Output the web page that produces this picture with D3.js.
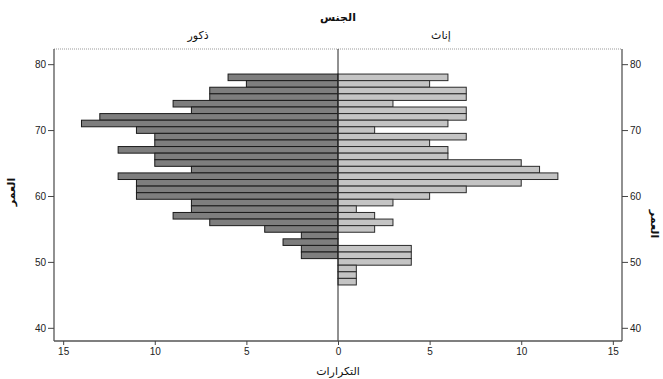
<!DOCTYPE html>
<html>
<head>
<meta charset="utf-8">
<script src="https://cdn.jsdelivr.net/npm/d3@7"></script>
<style>
  body { margin: 0; background: #fff; }
  svg { display: block; }
  .tick text { font-family: "Liberation Sans", Arial, sans-serif; font-size: 10px; fill: #222; }
  .ar { font-family: "DejaVu Sans", sans-serif; fill: #111; }
</style>
</head>
<body>
<svg id="chart"></svg>
<script>
// ages, top bar first
const maleAges = d3.range(78, 50, -1);
const maleCounts = [6, 5, 7, 7, 9, 8, 13, 14, 11, 10, 10, 12, 10, 10, 8, 12, 11, 11, 11, 8, 8, 9, 7, 4, 2, 3, 2, 2];
const femaleAges = d3.range(78, 46, -1);
const femaleCounts = [6, 5, 7, 7, 3, 7, 7, 6, 2, 7, 5, 6, 6, 10, 11, 12, 10, 7, 5, 3, 1, 2, 3, 2, 0, 0, 4, 4, 4, 1, 1, 1];
const ageTicks = [40, 50, 60, 70, 80];
const countTicks = [-15, -10, -5, 0, 5, 10, 15];

const width = 663, height = 379;
const plotLeft = 54, plotRight = 622, plotTop = 49, plotBottom = 341;

const svg = d3.select("#chart").attr("width", width).attr("height", height);

const x = d3.scaleLinear().domain([-15.5, 15.5]).range([plotLeft, plotRight]);
const y = d3.scaleLinear().domain([38, 82.3]).range([plotBottom, plotTop]);

const males = maleAges.map((a, i) => ({ age: a, n: maleCounts[i] }));
const females = femaleAges.map((a, i) => ({ age: a, n: femaleCounts[i] })).filter(d => d.n > 0);

// frame top
svg.append("line").attr("x1", plotLeft).attr("x2", plotRight).attr("y1", plotTop).attr("y2", plotTop)
  .style("stroke", "#999").style("stroke-dasharray", "1,1");

// bars
svg.append("g").selectAll("rect").data(males).join("rect")
  .attr("x", d => x(-d.n))
  .attr("y", d => y(d.age + 0.5))
  .attr("width", d => x(0) - x(-d.n))
  .attr("height", d => y(d.age - 0.5) - y(d.age + 0.5))
  .style("fill", "#7e7e7e")
  .style("stroke", "#1a1a1a")
  .style("stroke-width", 1);

svg.append("g").selectAll("rect").data(females).join("rect")
  .attr("x", x(0))
  .attr("y", d => y(d.age + 0.5))
  .attr("width", d => x(d.n) - x(0))
  .attr("height", d => y(d.age - 0.5) - y(d.age + 0.5))
  .style("fill", "#c4c4c4")
  .style("stroke", "#2a2a2a")
  .style("stroke-width", 1);

// center line
svg.append("line").attr("x1", x(0)).attr("x2", x(0)).attr("y1", plotTop).attr("y2", plotBottom)
  .style("stroke", "#222");

// axes
const yl = svg.append("g").attr("transform", `translate(${plotLeft},0)`)
  .call(d3.axisLeft(y).tickValues(ageTicks).tickSize(6).tickPadding(2));
const yr = svg.append("g").attr("transform", `translate(${plotRight},0)`)
  .call(d3.axisRight(y).tickValues(ageTicks).tickSize(6).tickPadding(2));
const xb = svg.append("g").attr("transform", `translate(0,${plotBottom})`)
  .call(d3.axisBottom(x).tickValues(countTicks).tickFormat(d => Math.abs(d)).tickSize(4).tickPadding(3));

[yl, yr, xb].forEach(g => {
  g.select(".domain").style("stroke", "#555").style("stroke-width", 1.3);
  g.selectAll(".tick line").style("stroke", "#444");
});
yl.select(".domain").attr("d", `M0,${plotTop}V${plotBottom}`);
yr.select(".domain").attr("d", `M0,${plotTop}V${plotBottom}`);
xb.select(".domain").attr("d", `M${plotLeft},0H${plotRight}`);

// titles
svg.append("text").attr("class", "ar").attr("x", x(0)).attr("y", 21)
  .attr("text-anchor", "middle").style("font-size", "11px").style("font-weight", "bold").text("الجنس");
svg.append("text").attr("class", "ar").attr("x", 198).attr("y", 39)
  .attr("text-anchor", "middle").style("font-size", "11px").text("ذكور");
svg.append("text").attr("class", "ar").attr("x", 441).attr("y", 39)
  .attr("text-anchor", "middle").style("font-size", "11px").text("إناث");
svg.append("text").attr("class", "ar").attr("x", x(0)).attr("y", 375)
  .attr("text-anchor", "middle").style("font-size", "11px").text("التكرارات");
svg.append("text").attr("class", "ar")
  .attr("transform", `translate(15,${y(60) - 4}) rotate(-90)`)
  .attr("text-anchor", "middle").style("font-size", "11px").style("font-weight", "bold").text("العمر");
svg.append("text").attr("class", "ar")
  .attr("transform", `translate(651,${y(60) + 28}) rotate(90)`)
  .attr("text-anchor", "middle").style("font-size", "11px").style("font-weight", "bold").text("العمر");
</script>
</body>
</html>
